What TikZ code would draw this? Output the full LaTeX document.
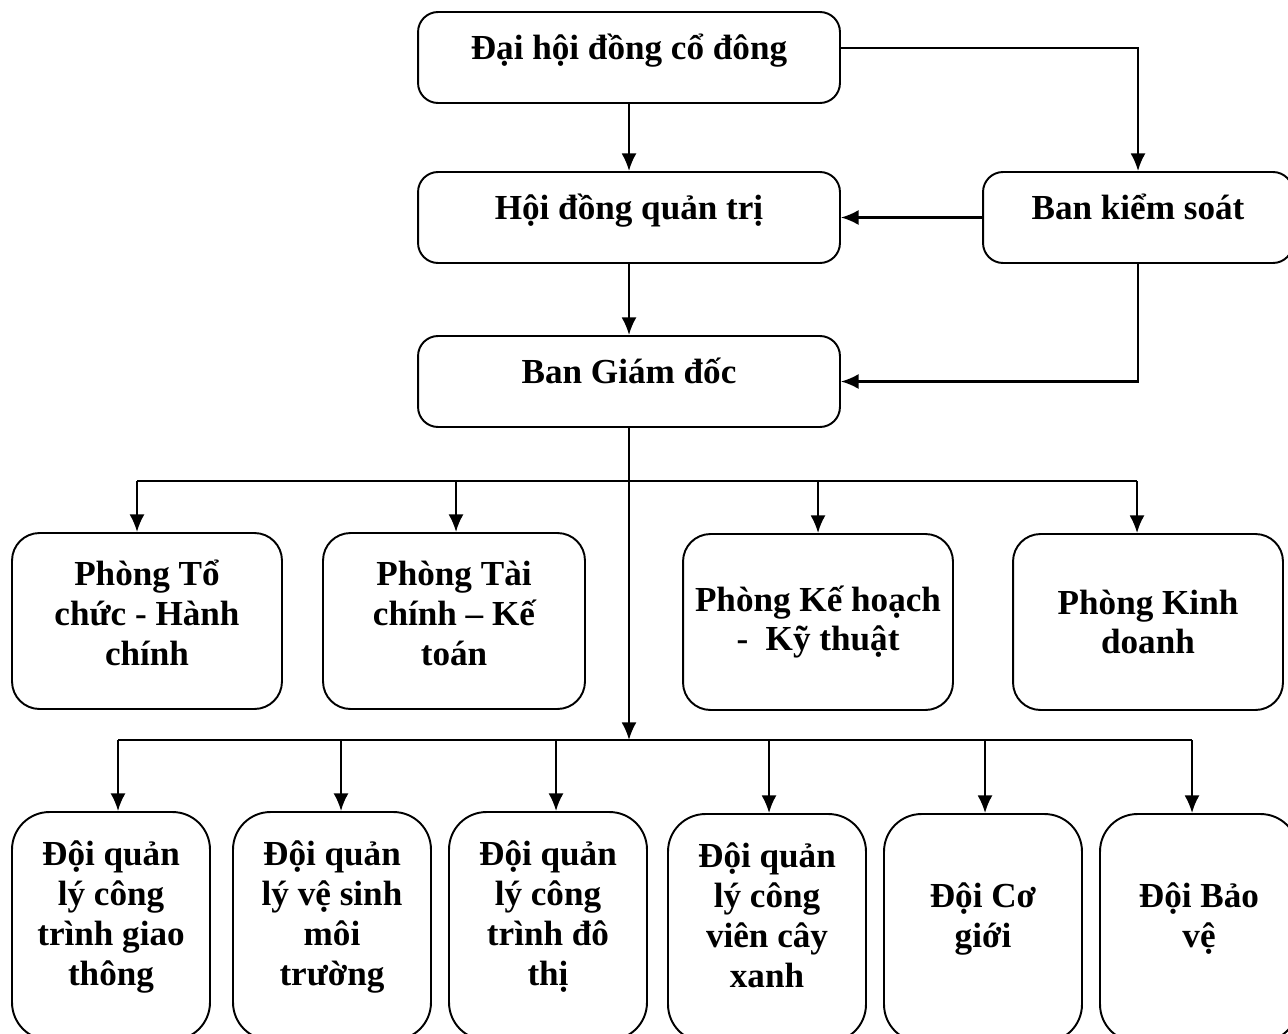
\documentclass[tikz,border=0pt]{standalone}
\usepackage{fontspec}
\setmainfont{Liberation Serif}
\usepackage{tikz}
\usetikzlibrary{shapes,positioning,calc}
\usetikzlibrary{arrows.meta}
\tikzstyle{hop} = [rectangle, align=center, draw=black, line width=1.1pt, font=\fontsize{20}{22.7}\selectfont\bfseries]
\tikzstyle{khoi} = [hop, rounded corners=0.4cm, minimum width=8.44cm, minimum height=1.82cm, text depth=0.42cm]
\tikzstyle{phong} = [hop, rounded corners=0.55cm, minimum width=5.4cm, minimum height=3.52cm]
\tikzstyle{doi} = [hop, rounded corners=0.75cm, minimum width=3.96cm, minimum height=4.56cm, text depth=0.52cm]
\tikzstyle{arrow} = [line width=1.3pt,->,>={Latex[length=10pt,width=8.5pt]}]
\tikzstyle{noi} = [line width=1.3pt]

\begin{document}
\begin{tikzpicture}[x=0.02cm,y=-0.02cm]
						\useasboundingbox (0,0) rectangle (1288,1034);
						% cap tren
						\node (dhcd) at (629,57.5) [khoi] {Đại hội đồng cổ đông};
						\node (hdqt) at (629,217.5) [khoi] {Hội đồng quản trị};
						\node (bks) at (1138,217.5) [khoi, minimum width=6.2cm] {Ban kiểm soát};
						\node (bgd) at (629,381.5) [khoi] {Ban Giám đốc};
						% cac phong
						\node (p1) at (147,621) [phong, text depth=0.32cm] {Phòng Tổ\\chức - Hành\\chính};
						\node (p2) at (454,621) [phong, text depth=0.32cm, minimum width=5.24cm] {Phòng Tài\\chính – Kế\\toán};
						\node (p3) at (818,622) [phong] {Phòng Kế hoạch\\-\ \ Kỹ thuật};
						\node (p4) at (1148,622) [phong] {Phòng Kinh\\doanh};
						% cac doi
						\node (d1) at (111,926) [doi] {Đội quản\\lý công\\trình giao\\thông};
						\node (d2) at (332,926) [doi] {Đội quản\\lý vệ sinh\\môi\\trường};
						\node (d3) at (548,926) [doi] {Đội quản\\lý công\\trình đô\\thị};
						\node (d4) at (767,928) [doi] {Đội quản\\lý công\\viên cây\\xanh};
						\node (d5) at (983,928) [doi] {Đội Cơ\\giới};
						\node (d6) at (1199,928) [doi] {Đội Bảo\\vệ};
						% diem re nhanh
						\coordinate (t1) at (137,481);
						\coordinate (t4) at (1137,481);
						\coordinate (tg) at (629,740);
						\coordinate (b1) at (118,740);
						\coordinate (b2) at (341,740);
						\coordinate (b3) at (556,740);
						\coordinate (b4) at (769,740);
						\coordinate (b5) at (985,740);
						\coordinate (b6) at (1192,740);
						\draw[arrow] (dhcd) -- (hdqt);
						\draw[arrow] ([yshift=0.19cm]dhcd.east) -| (bks.north);
						\draw[arrow] (bks) -- (hdqt);
						\draw[arrow] (hdqt) -- (bgd);
						\draw[arrow] (bks.south) |- (bgd.east);
						\draw[arrow] (bgd.south) -- (tg);
						\draw[noi] (t1) -- (t4);
						\draw[arrow] (t1) -- (t1 |- p1.north);
						\draw[arrow] (456,481) -- (456,481 |- p2.north);
						\draw[arrow] (818,481) -- (p3.north);
						\draw[arrow] (t4) -- (t4 |- p4.north);
						\draw[noi] (b1) -- (b6);
						\draw[arrow] (b1) -- (b1 |- d1.north);
						\draw[arrow] (b2) -- (b2 |- d2.north);
						\draw[arrow] (b3) -- (b3 |- d3.north);
						\draw[arrow] (b4) -- (b4 |- d4.north);
						\draw[arrow] (b5) -- (b5 |- d5.north);
						\draw[arrow] (b6) -- (b6 |- d6.north);
					\end{tikzpicture}
\end{document}
